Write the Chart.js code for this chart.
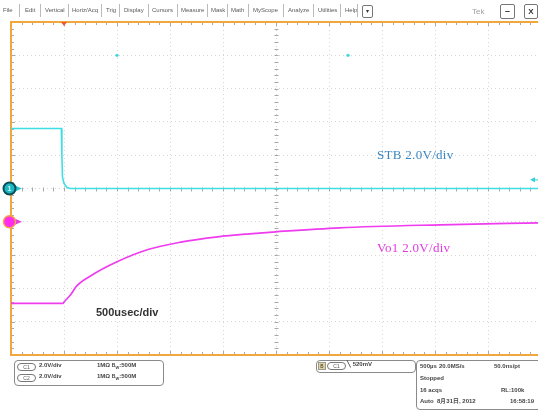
<!DOCTYPE html>
<html><head><meta charset="utf-8">
<script src="https://cdn.jsdelivr.net/npm/chart.js@4/dist/chart.umd.min.js"></script>
<style>
html,body{margin:0;padding:0;width:538px;height:410px;overflow:hidden;background:#fff;font-family:"Liberation Sans",Arial,sans-serif;}
#wrap{position:absolute;left:0;top:0;width:560px;height:410px;}
#c{display:block;width:560px;height:410px;}
.abs{position:absolute;white-space:nowrap;}
.mi{position:absolute;top:6px;font-size:6px;color:#5a5a5a;line-height:8px;}
.sep{position:absolute;top:4px;width:1px;height:13px;background:#bbb;}
.box{position:absolute;border:1px solid #8a8a8a;border-radius:4px;background:#fff;}
.t{position:absolute;font-size:6px;font-weight:bold;color:#444;line-height:7px;white-space:nowrap;}
.pill{position:absolute;border:1px solid #777;border-radius:4px;font-size:5px;line-height:6px;height:6px;width:17px;text-align:center;color:#555;}
.lbl{position:absolute;white-space:nowrap;font-family:"Liberation Serif","Times New Roman",serif;font-size:13px;letter-spacing:0.3px;}
</style></head>
<body>
<div id="wrap"><canvas id="c" width="560" height="410"></canvas></div>

<!-- menu bar -->
<div class="mi" style="left:3px">File</div><div class="sep" style="left:19px"></div>
<div class="mi" style="left:25px">Edit</div><div class="sep" style="left:40px"></div>
<div class="mi" style="left:45px">Vertical</div><div class="sep" style="left:68px"></div>
<div class="mi" style="left:72px">Horiz/Acq</div><div class="sep" style="left:101px"></div>
<div class="mi" style="left:106px">Trig</div><div class="sep" style="left:119px"></div>
<div class="mi" style="left:124px">Display</div><div class="sep" style="left:148px"></div>
<div class="mi" style="left:152px">Cursors</div><div class="sep" style="left:177px"></div>
<div class="mi" style="left:181px">Measure</div><div class="sep" style="left:207px"></div>
<div class="mi" style="left:211px">Mask</div><div class="sep" style="left:227px"></div>
<div class="mi" style="left:231px">Math</div><div class="sep" style="left:248px"></div>
<div class="mi" style="left:253px">MyScope</div><div class="sep" style="left:283px"></div>
<div class="mi" style="left:288px">Analyze</div><div class="sep" style="left:313px"></div>
<div class="mi" style="left:318px">Utilities</div><div class="sep" style="left:340px"></div>
<div class="mi" style="left:345px">Help</div><div class="sep" style="left:357px"></div>
<div class="abs" style="left:362px;top:5px;width:9px;height:11px;border:1px solid #777;border-radius:2px;font-size:6px;line-height:11px;text-align:center;color:#333">▾</div>
<div class="abs" style="left:472px;top:7px;font-size:8px;color:#a0a0a0;">Tek</div>
<div class="abs" style="left:500px;top:4px;width:13px;height:13px;border:1px solid #777;border-radius:2px;font-size:9px;line-height:13px;text-align:center;color:#333;font-weight:bold">–</div>
<div class="abs" style="left:524px;top:4px;width:12px;height:13px;border:1px solid #777;border-radius:2px;font-size:8px;line-height:13px;text-align:center;color:#333;font-weight:bold">X</div>

<!-- plot labels -->
<div class="lbl" style="left:377px;top:147px;color:#3a86c2">STB 2.0V/div</div>
<div class="lbl" style="left:377px;top:240px;color:#e03ce0">Vo1 2.0V/div</div>
<div class="abs" style="left:96px;top:306px;font-size:11px;font-weight:bold;color:#333;font-family:'Liberation Sans',Arial,sans-serif">500usec/div</div>

<!-- bottom info boxes -->
<div class="box" style="left:14px;top:360px;width:148px;height:24px"></div>
<div class="pill" style="left:17px;top:363px">C1</div>
<div class="t" style="left:39px;top:362px">2.0V/div</div>
<div class="t" style="left:97px;top:362px">1MΩ <span style="font-size:5px">B<sub style="font-size:4px">W</sub></span>:500M</div>
<div class="pill" style="left:17px;top:374px">C2</div>
<div class="t" style="left:39px;top:373px">2.0V/div</div>
<div class="t" style="left:97px;top:373px">1MΩ <span style="font-size:5px">B<sub style="font-size:4px">W</sub></span>:500M</div>

<div class="box" style="left:316px;top:360px;width:98px;height:11px"></div>
<div class="abs" style="left:318px;top:362px;width:6px;height:6px;background:#e2d49a;border:1px solid #999;font-size:5px;line-height:6px;text-align:center;color:#333">B</div>
<div class="pill" style="left:327px;top:362px">C1</div>
<div class="t" style="left:347px;top:361px">╲ 520mV</div>

<div class="box" style="left:416px;top:360px;width:125px;height:48px"></div>
<div class="t" style="left:420px;top:363px">500µs</div>
<div class="t" style="left:439px;top:363px">20.0MS/s</div>
<div class="t" style="left:494px;top:363px">50.0ns/pt</div>
<div class="t" style="left:420px;top:375px">Stopped</div>
<div class="t" style="left:420px;top:387px">16 acqs</div>
<div class="t" style="left:501px;top:387px">RL:100k</div>
<div class="t" style="left:420px;top:398px">Auto</div>
<div class="t" style="left:437px;top:398px">8月31日, 2012</div>
<div class="t" style="left:510px;top:398px">16:58:19</div>

<script>
// time in microseconds, 500 us/div, 10 divisions
const timeTicksUs = [0,500,1000,1500,2000,2500,3000,3500,4000,4500,5000];
// STB (channel 1), volts, 2 V/div
const stbTime  = [0, 475, 480, 486, 500, 528, 560, 5000];
const stbVolts = [3.6, 3.6, 2.0, 0.66, 0.3, 0.06, 0, 0];
// Vo1 (channel 2), volts, 2 V/div
const vo1Time  = [0, 490, 500, 560, 620, 750, 1000, 1300, 1600, 1950, 2250, 2500, 3100, 4050, 5000];
const vo1Volts = [-4.9, -4.9, -4.82, -4.4, -3.85, -3.25, -2.4, -1.65, -1.22, -0.9, -0.72, -0.6, -0.36, -0.18, -0.06];
// small cyan screen markers
const markTime  = [1000, 3180];
const markVolts = [8, 8];
const trigLevelV = 0.52;
const trigPosUs = 500;

const toXY = (xs, ys) => xs.map((x,i)=>({x, y: ys[i]}));

const scopeDecor = {
  id:'scopeDecor',
  beforeDatasetsDraw(chart){
    const {ctx, chartArea:a, scales:{x,y}} = chart;
    const ln=(x1,y1,x2,y2)=>{ctx.beginPath();ctx.moveTo(x1,y1);ctx.lineTo(x2,y2);ctx.stroke();};
    ctx.save();
    ctx.strokeStyle='#a8a8a8'; ctx.lineWidth=1;
    const cy = Math.round(y.getPixelForValue(0))+0.5;
    const cx = Math.round(x.getPixelForValue(2500))+0.5;
    for(let t=0;t<=5000;t+=100){
      const px=Math.round(x.getPixelForValue(t))+0.5;
      const L = (t%500===0)?4:3;
      ln(px,a.top,px,a.top+L);
      ln(px,a.bottom-L,px,a.bottom);
      ln(px,cy-2,px,cy+2);
    }
    for(let k=0;k<=50;k++){
      const v=-10+k*0.4;
      const py=Math.round(y.getPixelForValue(v))+0.5;
      const L=(k%5===0)?4:3;
      ln(a.left,py,a.left+L,py);
      ln(cx-2,py,cx+2,py);
    }
    // orange frame
    ctx.strokeStyle='#f2a73c'; ctx.lineWidth=2;
    ln(a.left,a.top,a.right,a.top);
    ln(a.left,a.top-1,a.left,a.bottom+1);
    ln(a.left,a.bottom,a.right,a.bottom);
    ctx.restore();
  },
  afterDatasetsDraw(chart){
    const {ctx, chartArea:a, scales:{x,y,y2}} = chart;
    ctx.save();
    // trigger position marker
    const tp = x.getPixelForValue(trigPosUs);
    ctx.fillStyle='#ee5a2a';
    ctx.beginPath();ctx.moveTo(tp-3,a.top);ctx.lineTo(tp+3,a.top);ctx.lineTo(tp,a.top+4);ctx.closePath();ctx.fill();
    // channel 1 ground marker
    let gy = y.getPixelForValue(0);
    ctx.fillStyle='#28c4cc';
    ctx.beginPath();ctx.moveTo(15,gy-3);ctx.lineTo(22,gy);ctx.lineTo(15,gy+3);ctx.closePath();ctx.fill();
    ctx.beginPath();ctx.arc(9.5,gy,6,0,Math.PI*2);ctx.fillStyle='#20b8c2';ctx.fill();
    ctx.lineWidth=2;ctx.strokeStyle='#0d4f55';ctx.stroke();
    ctx.fillStyle='#c8f4f6';ctx.font='bold 7px Liberation Sans';ctx.textAlign='center';ctx.textBaseline='middle';ctx.fillText('1',9.5,gy+0.5);
    // channel 2 ground marker
    gy = y2.getPixelForValue(0);
    ctx.fillStyle='#e43ce4';
    ctx.beginPath();ctx.moveTo(15,gy-3);ctx.lineTo(22,gy);ctx.lineTo(15,gy+3);ctx.closePath();ctx.fill();
    ctx.beginPath();ctx.arc(9.5,gy,6,0,Math.PI*2);ctx.fillStyle='#ff2cf0';ctx.fill();
    ctx.lineWidth=1.5;ctx.strokeStyle='#f5a04a';ctx.stroke();
    // trigger level marker (right side)
    const ty = y.getPixelForValue(trigLevelV);
    ctx.fillStyle='#30d0d8';
    ctx.beginPath();ctx.moveTo(530,ty);ctx.lineTo(535,ty-2.5);ctx.lineTo(535,ty+2.5);ctx.closePath();ctx.fill();
    ctx.fillRect(535,ty-0.5,3,1);
    ctx.restore();
  }
};

new Chart(document.getElementById('c'), {
  type:'line',
  data:{
    datasets:[
      {label:'STB', data:toXY(stbTime,stbVolts), yAxisID:'y', borderColor:'#3fdde4', borderWidth:1.6, pointRadius:0, tension:0, fill:false},
      {label:'Vo1', data:toXY(vo1Time,vo1Volts), yAxisID:'y2', borderColor:'#ee3cee', borderWidth:1.7, pointRadius:0, cubicInterpolationMode:'monotone', fill:false},
      {label:'marks', type:'scatter', data:toXY(markTime,markVolts), yAxisID:'y', pointRadius:1.6, pointBackgroundColor:'#3fd6de', pointBorderWidth:0, showLine:false}
    ]
  },
  options:{
    responsive:false, animation:false, devicePixelRatio:1,
    layout:{padding:{left:11, top:22, right:19, bottom:55}},
    plugins:{legend:{display:false}, tooltip:{enabled:false}},
    scales:{
      x:{type:'linear', min:0, max:5000,
         afterBuildTicks:(s)=>{s.ticks=timeTicksUs.map(v=>({value:v}));},
         ticks:{display:false},
         grid:{color:'#d6d6d6', lineWidth:1, drawTicks:false},
         border:{display:false, dash:[1,3]}},
      y:{type:'linear', min:-10, max:10,
         ticks:{display:false, stepSize:2},
         grid:{color:'#d6d6d6', lineWidth:1, drawTicks:false},
         border:{display:false, dash:[1,3]}},
      y2:{type:'linear', min:-8, max:12, display:false}
    }
  },
  plugins:[scopeDecor]
});
</script>
</body></html>
